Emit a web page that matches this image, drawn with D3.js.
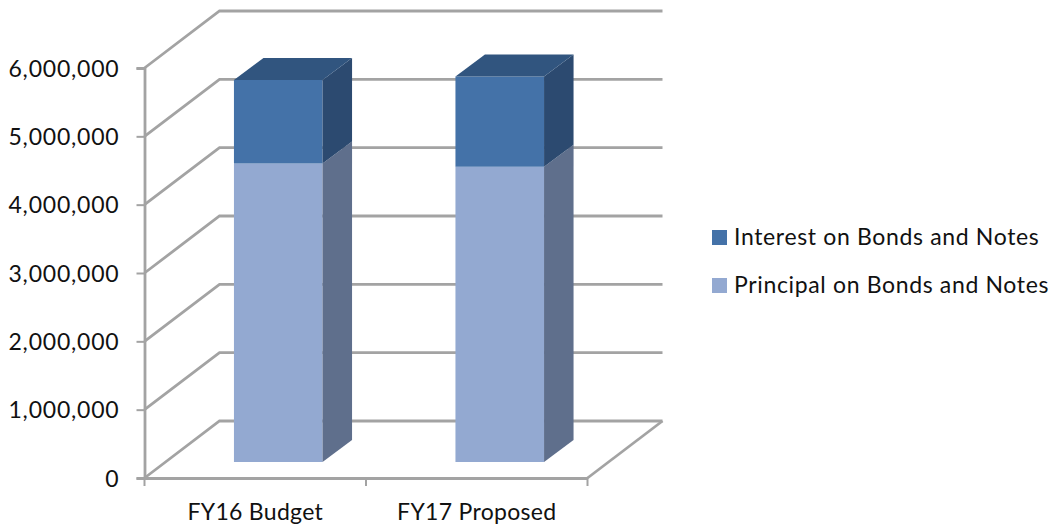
<!DOCTYPE html>
<html lang="en">
<head>
<meta charset="UTF-8">
<title>Bonds and Notes</title>
<script src="https://d3js.org/d3.v7.min.js"></script>
<style>
    html, body { margin: 0; padding: 0; background: #fff; }
    svg { display: block; }
    text { font-family: Lato, "Open Sans", sans-serif; fill: #111; }
    .axis text { font-size: 23px; }
    .yaxis text { letter-spacing: 0.8px; }
    .xaxis text { letter-spacing: 0.3px; }
    .legend text { font-size: 23px; letter-spacing: 0.65px; }
</style>
</head>
<body>
<script>
    var categories = ["FY16 Budget", "FY17 Proposed"];
    var principal = [4370000, 4320000];
    var interest = [1220000, 1320000];
    var yTicks = [0, 1000000, 2000000, 3000000, 4000000, 5000000, 6000000];
    var legendLabels = ["Interest on Bonds and Notes", "Principal on Bonds and Notes"];

    var width = 1058, height = 524;
    var gridColor = "#a3a3a3";

    // the fake 3D: how far the back wall and the bars are pushed
    var wall = {x: 75, y: 57};
    var barShift = {x: 23, y: 16};
    var barDepth = {x: 29.5, y: 22};

    var svg = d3.select("body").append("svg")
        .attr("width", width)
        .attr("height", height);

    var y = d3.scaleLinear().domain([0, 6000000]).range([478, 68]);
    var x = d3.scaleBand().domain(categories).range([144.5, 587.5]).paddingInner(0.6).paddingOuter(0.3);

    var grid = svg.append("g").attr("fill", "none").attr("stroke", gridColor).attr("stroke-width", 2.8);

    // wall lines going back from the axis and across
    grid.selectAll("path.wall")
        .data(yTicks)
        .enter()
        .append("path")
            .attr("class", "wall")
            .attr("d", function (d) {
                return d3.line()([
                    [x.range()[0], y(d)],
                    [x.range()[0] + wall.x, y(d) - wall.y],
                    [x.range()[1] + wall.x, y(d) - wall.y]
                ]);
            });

    // floor, right edge
    grid.append("path")
        .attr("d", d3.line()([
            [x.range()[1], y(0)],
            [x.range()[1] + wall.x, y(0) - wall.y]
        ]));

    // y axis
    var yAxis = d3.axisLeft(y)
        .tickValues(yTicks)
        .tickFormat(d3.format(","))
        .tickSize(8)
        .tickPadding(17);

    var yG = svg.append("g")
        .attr("class", "axis yaxis")
        .attr("transform", "translate(" + x.range()[0] + ",0)")
        .call(yAxis);
    yG.select(".domain").attr("stroke", gridColor).attr("stroke-width", 2.8);
    yG.selectAll(".tick line").attr("stroke", gridColor).attr("stroke-width", 2);
    yG.selectAll(".tick text").attr("dy", "8px");

    // x axis, labels in the band middle
    var xAxis = d3.axisBottom(x).tickSize(0).tickPadding(26);
    var xG = svg.append("g")
        .attr("class", "axis xaxis")
        .attr("transform", "translate(0," + y(0) + ")")
        .call(xAxis);
    xG.select(".domain").attr("stroke", gridColor).attr("stroke-width", 2.8);
    xG.selectAll(".tick line").remove();

    // tick marks sit on the band edges
    var edges = [x.range()[0], x.range()[0] + x.step(), x.range()[1]];
    svg.append("g").selectAll("line")
        .data(edges)
        .enter()
        .append("line")
            .attr("x1", function (d) { return d; })
            .attr("x2", function (d) { return d; })
            .attr("y1", y(0))
            .attr("y2", y(0) + 8)
            .attr("stroke", gridColor)
            .attr("stroke-width", 2);

    // bars
    var bars = svg.append("g").selectAll("g")
        .data(categories)
        .enter()
        .append("g");

    function poly(pts) { return pts.join(" "); }

    function frontFace(i, v0, v1) {
        var x0 = x(categories[i]) + barShift.x;
        var x1 = x0 + x.bandwidth();
        return [[x0, y(v0) - barShift.y], [x1, y(v0) - barShift.y], [x1, y(v1) - barShift.y], [x0, y(v1) - barShift.y]];
    }

    function sideFace(i, v0, v1) {
        var x1 = x(categories[i]) + barShift.x + x.bandwidth();
        return [
            [x1, y(v0) - barShift.y],
            [x1 + barDepth.x, y(v0) - barShift.y - barDepth.y],
            [x1 + barDepth.x, y(v1) - barShift.y - barDepth.y],
            [x1, y(v1) - barShift.y]
        ];
    }

    function topFace(i, v) {
        var x0 = x(categories[i]) + barShift.x;
        var x1 = x0 + x.bandwidth();
        var yy = y(v) - barShift.y;
        return [[x0, yy], [x1, yy], [x1 + barDepth.x, yy - barDepth.y], [x0 + barDepth.x, yy - barDepth.y]];
    }

    bars.append("polygon")
        .attr("points", function (d, i) { return poly(frontFace(i, 0, principal[i])); })
        .attr("fill", "#93a9d1");
    bars.append("polygon")
        .attr("points", function (d, i) { return poly(sideFace(i, 0, principal[i])); })
        .attr("fill", "#5f6f8c");
    bars.append("polygon")
        .attr("points", function (d, i) { return poly(frontFace(i, principal[i], principal[i] + interest[i])); })
        .attr("fill", "#4472a8");
    bars.append("polygon")
        .attr("points", function (d, i) { return poly(sideFace(i, principal[i], principal[i] + interest[i])); })
        .attr("fill", "#2c4a70");
    bars.append("polygon")
        .attr("points", function (d, i) { return poly(topFace(i, principal[i] + interest[i])); })
        .attr("fill", "#31557f");

    // legend
    var legend = svg.append("g").attr("class", "legend");
    var legendColor = d3.scaleOrdinal().domain(legendLabels).range(["#4472a8", "#93a9d1"]);
    var legendY = d3.scalePoint().domain(legendLabels).range([230, 278]);

    legend.selectAll("rect")
        .data(legendLabels)
        .enter()
        .append("rect")
            .attr("x", 712)
            .attr("y", function (d) { return legendY(d); })
            .attr("width", 15)
            .attr("height", 15)
            .attr("fill", function (d) { return legendColor(d); });

    legend.selectAll("text")
        .data(legendLabels)
        .enter()
        .append("text")
            .attr("x", 734)
            .attr("y", function (d) { return legendY(d) + 15; })
            .text(function (d) { return d; });
</script>
</body>
</html>
